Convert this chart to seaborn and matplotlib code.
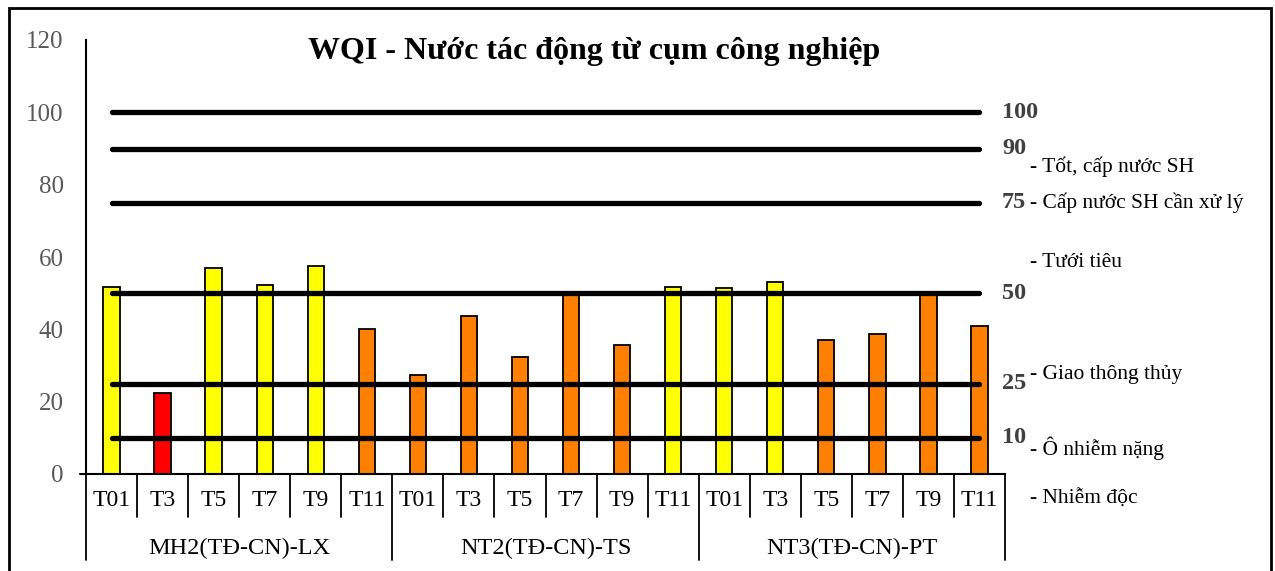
import seaborn as sns
import matplotlib.pyplot as plt
import matplotlib.transforms as mtransforms
from matplotlib.patches import Rectangle
import pandas as pd

# ---------------------------------------------------------------
# Dữ liệu WQI
# ---------------------------------------------------------------
diem = ["MH2(TĐ-CN)-LX", "NT2(TĐ-CN)-TS", "NT3(TĐ-CN)-PT"]
dot = ["T01", "T3", "T5", "T7", "T9", "T11"]
wqi_mh2 = [51.7, 22.5, 57.0, 52.3, 57.6, 40.2]
wqi_nt2 = [27.3, 43.6, 32.4, 49.6, 35.6, 51.8]
wqi_nt3 = [51.3, 53.1, 37.0, 38.8, 49.6, 40.9]

muc_nguong = [100, 90, 75, 50, 25, 10]
mo_ta = ["- Tốt, cấp nước SH", "- Cấp nước SH cần xử lý", "- Tưới tiêu",
         "- Giao thông thủy", "- Ô nhiễm nặng", "- Nhiễm độc"]
mo_ta_y = [85, 75, 58.6, 27.4, 7.2, -6.9]

mau = {"vang": "#FFFF00", "cam": "#FF8000", "do": "#FF0000"}


def xep_loai(v):
    if v >= 50:
        return "vang"
    if v >= 25:
        return "cam"
    return "do"


rows = []
for d, vals in zip(diem, [wqi_mh2, wqi_nt2, wqi_nt3]):
    for t, v in zip(dot, vals):
        rows.append({"ma": d + "|" + t, "diem": d, "dot": t, "wqi": v,
                     "loai": xep_loai(v)})
df = pd.DataFrame(rows)

# ---------------------------------------------------------------
# Vẽ
# ---------------------------------------------------------------
sns.set_theme(style="white")
plt.rcParams["font.family"] = ["Liberation Serif", "DejaVu Serif"]
plt.rcParams["text.color"] = "black"

fig = plt.figure(figsize=(12.75, 5.71), dpi=100)
ax = fig.add_axes([86 / 1275, 97 / 571, 919 / 1275, 434 / 571])

sns.barplot(data=df, x="ma", y="wqi", hue="loai", palette=mau,
            order=df["ma"], dodge=False, width=0.32, edgecolor="black",
            linewidth=1.3, saturation=1, legend=False, ax=ax, zorder=2)

n = len(df)
ax.set_xlim(-0.5, n - 0.5)
ax.set_ylim(0, 120)
ax.set_yticks(range(0, 121, 20))
ax.tick_params(axis="y", direction="out", length=6, width=1.3,
               colors="black", labelcolor="#595959", labelsize=18, pad=10)
ax.set_xticks([])
ax.set_xlabel("")
ax.set_ylabel("")
for s in ["top", "right"]:
    ax.spines[s].set_visible(False)
for s in ["left", "bottom"]:
    ax.spines[s].set_color("black")
    ax.spines[s].set_linewidth(1.5)

# các đường ngưỡng
ax.hlines(muc_nguong, 0, n - 1, colors="black", linewidth=3.8,
          capstyle="round", zorder=3)

# nhãn trục x hai tầng
trans_x = mtransforms.blended_transform_factory(ax.transData, ax.transAxes)
for i, t in enumerate(df["dot"]):
    ax.text(i, -0.062, t, transform=trans_x, ha="center", va="center",
            fontsize=17, color="black")
for i in range(n + 1):
    dai = -0.198 if i % len(dot) == 0 else -0.099
    ax.plot([i - 0.5, i - 0.5], [0, dai], transform=trans_x,
            color="black", lw=1.3, clip_on=False)
for k, d in enumerate(diem):
    ax.text(k * len(dot) + (len(dot) - 1) / 2, -0.172, d, transform=trans_x,
            ha="center", va="center", fontsize=17.5, color="black")
ax.plot([-0.62, -0.5], [0, 0], transform=trans_x, color="black", lw=1.5,
        clip_on=False)

# chú thích bên phải
trans_r = mtransforms.blended_transform_factory(fig.transFigure, ax.transData)
for m in muc_nguong:
    ax.text(1002 / 1275, m, str(m), transform=trans_r, ha="left",
            va="center", fontsize=17.5, fontweight="bold", color="#404040")
for s, yv in zip(mo_ta, mo_ta_y):
    ax.text(1030 / 1275, yv, s, transform=trans_r, ha="left", va="center",
            fontsize=15.5, color="black", clip_on=False)

fig.text(594 / 1275, 1 - 52 / 571, "WQI - Nước tác động từ cụm công nghiệp",
         ha="center", va="center", fontsize=23, fontweight="bold",
         color="black")

fig.patches.append(Rectangle((9 / 1275, -0.2), 1262 / 1275, 1.2 - 8 / 571,
                             transform=fig.transFigure, fill=False,
                             edgecolor="black", linewidth=2))

plt.savefig("out.png", dpi=100)
